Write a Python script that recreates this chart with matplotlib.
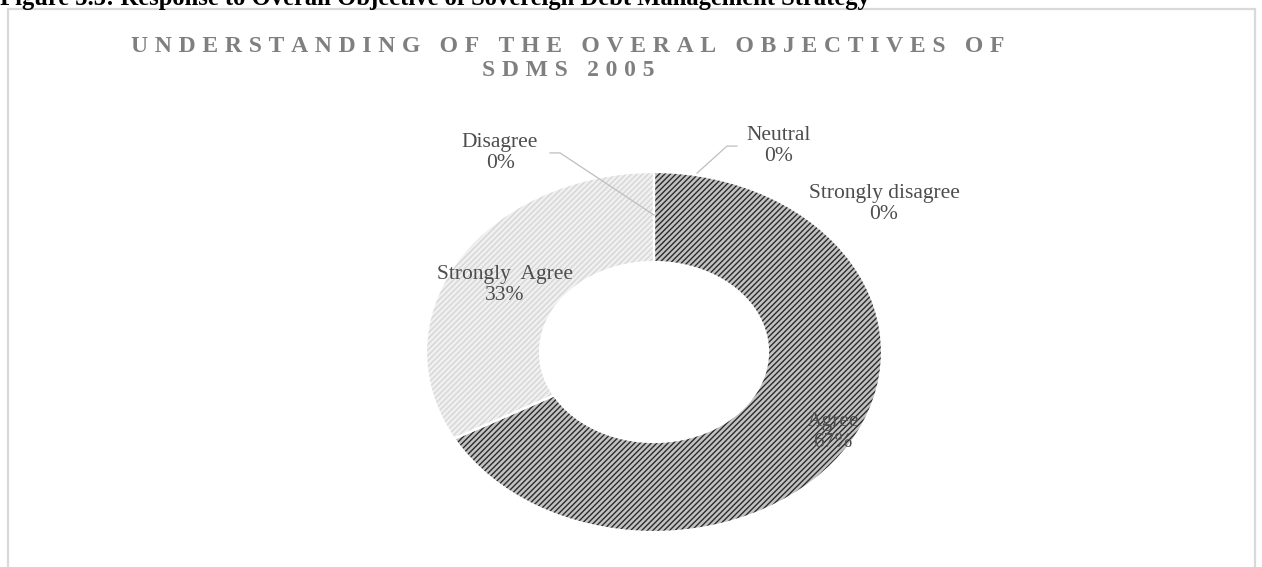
import matplotlib.pyplot as plt
from matplotlib.patches import Rectangle

plt.rcParams['font.family'] = ['Liberation Serif', 'DejaVu Serif']
plt.rcParams['hatch.linewidth'] = 1.0

heading = "Figure 5.5: Response to Overall Objective of Sovereign Debt Management Strategy"
title_lines = ["UNDERSTANDING OF THE OVERAL OBJECTIVES OF", "SDMS 2005"]

# answers with a share of the responses
categories = ["Agree", "Strongly  Agree"]
shares = [67, 33]
# answers nobody gave, only labelled
empty_categories = ["Neutral", "Strongly disagree", "Disagree"]
empty_shares = [0, 0, 0]

fig = plt.figure(figsize=(12.62, 5.67), dpi=100)

# frame of the chart area
fig.patches.append(Rectangle((8 / 1262, -0.1), 1247 / 1262, 1.1 - 9 / 567,
                             transform=fig.transFigure, fill=False,
                             edgecolor='#d9d9d9', linewidth=1.6))

fig.text(0.0, 1 - 5 / 567, heading, fontsize=17.7, fontweight='bold',
         color='black', ha='left', va='baseline')

for i, line in enumerate(title_lines):
    spaced = '\u2009\u200a'.join(line)
    fig.text(568 / 1262, 1 - (52 + 24 * i) / 567, spaced, fontsize=17,
             fontweight='bold', color='#7f7f7f', ha='center', va='baseline')

ax = fig.add_axes([426 / 1262, 1 - 532 / 567, 456 / 1262, 360 / 567])

wedges, _ = ax.pie(shares, startangle=90, counterclock=False, radius=1,
                   wedgeprops=dict(width=0.5, linewidth=0))
faces = ['#c2c2c2', '#f0f0f0']
hatch_colors = ['#2b2b2b', '#d6d6d6']
for w, fc, hc in zip(wedges, faces, hatch_colors):
    w.set_facecolor(fc)
    w.set_edgecolor(hc)
    w.set_hatch('//////')

# white separators between the slices
ax.pie(shares, startangle=90, counterclock=False, radius=1,
       wedgeprops=dict(width=0.5, linewidth=1.6, facecolor='none', edgecolor='white'))

ax.set_aspect('auto')
ax.set_xlim(-1, 1)
ax.set_ylim(-1, 1)
ax.axis('off')

label_style = dict(fontsize=15.5, color='#4d4d4d', ha='center', va='center',
                   linespacing=1.1)
share_pos = [(0.785, -0.444), (-0.654, 0.372)]
for name, val, (x, y) in zip(categories, shares, share_pos):
    ax.text(x, y, f"{name}\n{val}%", **label_style)

empty_pos = [(0.548, 1.144), (1.009, 0.822), (-0.675, 1.106)]
for name, val, (x, y) in zip(empty_categories, empty_shares, empty_pos):
    ax.text(x, y, f"{name}\n{val}%", **label_style)

# leader lines of the zero labels
ax.plot([0.189, 0.320, 0.364], [0.994, 1.144, 1.144], color='#bfbfbf',
        linewidth=0.9, clip_on=False)
ax.plot([-0.456, -0.412, 0.0], [1.106, 1.106, 0.761], color='#bfbfbf',
        linewidth=0.9, clip_on=False)

fig.savefig('out.png', dpi=100)
